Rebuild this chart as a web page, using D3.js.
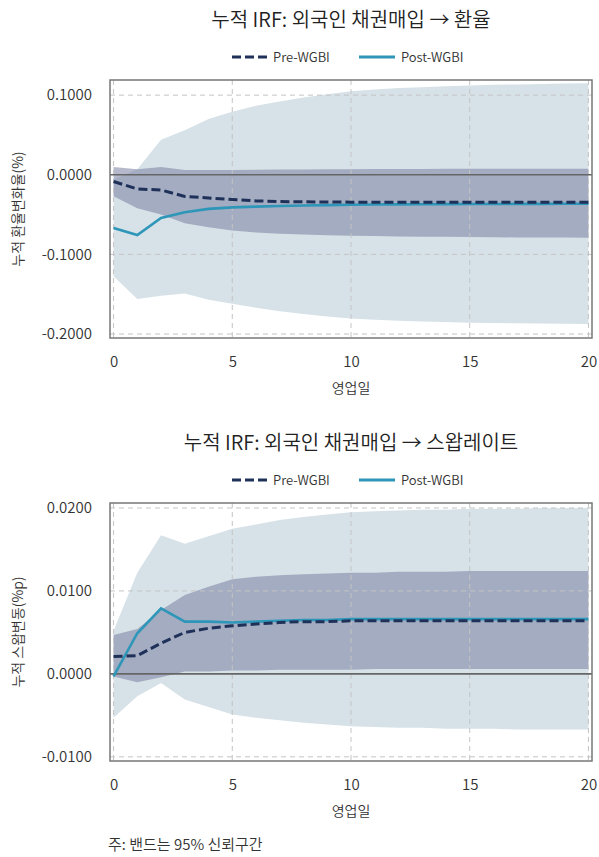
<!DOCTYPE html>
<html>
<head>
<meta charset="utf-8">
<title>누적 IRF</title>
<style>
  body { margin: 0; background: #fff; }
  svg { display: block; font-family: "Noto Sans CJK KR DemiLight", "Noto Sans CJK KR Light", "Noto Sans CJK KR", sans-serif; font-weight: 300; }
</style>
</head>
<body>
<svg width="599" height="857"></svg>
<script src="https://d3js.org/d3.v7.min.js"></script>
<script>

  // 영업일 0..20
  const days = d3.range(0, 21);
  const xTicks = [0, 5, 10, 15, 20];

  // 환율 패널
  const fxPre    = [-0.0085, -0.0178, -0.0192, -0.0272, -0.0292, -0.031, -0.0328, -0.0336, -0.034, -0.0342, -0.0344, -0.0345, -0.0345, -0.0345, -0.0345, -0.0345, -0.0345, -0.0345, -0.0345, -0.0345, -0.0345];
  const fxPost   = [-0.067, -0.0758, -0.0543, -0.047, -0.0428, -0.041, -0.040, -0.0392, -0.0386, -0.0381, -0.0377, -0.0374, -0.0372, -0.037, -0.0369, -0.0368, -0.0367, -0.0366, -0.0366, -0.0365, -0.0365];
  const fxPreLo  = [-0.027, -0.042, -0.050, -0.061, -0.066, -0.070, -0.0724, -0.074, -0.075, -0.076, -0.0765, -0.077, -0.0775, -0.078, -0.078, -0.0783, -0.0785, -0.0787, -0.0788, -0.0789, -0.079];
  const fxPreHi  = [0.0097, 0.007, 0.0097, 0.006, 0.006, 0.006, 0.0062, 0.0065, 0.0067, 0.0069, 0.007, 0.0071, 0.0072, 0.0073, 0.0074, 0.0075, 0.0075, 0.0076, 0.0076, 0.0077, 0.0077];
  const fxPostLo = [-0.1276, -0.156, -0.152, -0.149, -0.157, -0.162, -0.167, -0.1715, -0.175, -0.178, -0.1805, -0.182, -0.1832, -0.1842, -0.185, -0.1857, -0.1862, -0.1866, -0.1869, -0.1871, -0.1873];
  const fxPostHi = [-0.006, 0.007, 0.044, 0.056, 0.070, 0.079, 0.0866, 0.092, 0.097, 0.101, 0.105, 0.107, 0.109, 0.110, 0.111, 0.112, 0.113, 0.1135, 0.114, 0.1145, 0.115];
  const fxTicks  = [0.1, 0, -0.1, -0.2];

  // 스왑레이트 패널
  const swPre    = [0.0021, 0.0022, 0.0037, 0.0050, 0.0055, 0.0058, 0.0060, 0.0062, 0.0063, 0.0063, 0.0064, 0.0064, 0.0064, 0.0064, 0.0064, 0.0064, 0.0064, 0.0064, 0.0064, 0.0064, 0.0064];
  const swPost   = [-0.0003, 0.0049, 0.0079, 0.0063, 0.0063, 0.0062, 0.0063, 0.0064, 0.0065, 0.0065, 0.0066, 0.0066, 0.0066, 0.0066, 0.0066, 0.0066, 0.0066, 0.0066, 0.0066, 0.0066, 0.0066];
  const swPreLo  = [-0.0003, -0.0010, -0.0004, 0.0003, 0.0003, 0.0004, 0.0004, 0.0005, 0.0005, 0.0005, 0.0005, 0.0006, 0.0006, 0.0006, 0.0006, 0.0006, 0.0006, 0.0006, 0.0006, 0.0006, 0.0006];
  const swPreHi  = [0.0047, 0.0054, 0.0077, 0.0095, 0.0105, 0.0114, 0.0117, 0.0119, 0.0120, 0.0121, 0.0122, 0.0122, 0.0123, 0.0123, 0.0123, 0.0124, 0.0124, 0.0124, 0.0124, 0.0124, 0.0124];
  const swPostLo = [-0.0053, -0.0027, -0.0011, -0.0031, -0.0040, -0.0049, -0.0053, -0.0056, -0.0059, -0.0061, -0.0063, -0.0064, -0.0065, -0.0065, -0.0066, -0.0066, -0.0066, -0.0067, -0.0067, -0.0067, -0.0067];
  const swPostHi = [0.0052, 0.0122, 0.0167, 0.0157, 0.0166, 0.0175, 0.0180, 0.01855, 0.0189, 0.0192, 0.0195, 0.0196, 0.0197, 0.0198, 0.0198, 0.0199, 0.0199, 0.0199, 0.0200, 0.0200, 0.0200];
  const swTicks  = [0.02, 0.01, 0, -0.01];

  const svg = d3.select("svg");
  const left = 110, right = 592;

  const x = d3.scaleLinear().domain([-0.15, 20.15]).range([left, right]);
  const fmt = v => d3.format(".4f")(v).replace("−", "-");

  function panel(p) {
    const g = svg.append("g");
    const y = d3.scaleLinear().domain(p.yDomain).range([p.bottom, p.top]);

    // 제목
    g.append("text")
      .attr("x", (left + right) / 2).attr("y", p.top - 60)
      .attr("dy", "0.35em").attr("text-anchor", "middle")
      .attr("font-size", 20).attr("font-weight", 400).attr("fill", "#222")
      .text(p.title);

    // 범례
    const ly = p.top - 23;
    g.append("line").attr("x1", 232).attr("x2", 267).attr("y1", ly).attr("y2", ly)
      .attr("stroke", "#1f3158").attr("stroke-width", 3).attr("stroke-dasharray", "9,4");
    g.append("text").attr("x", 273).attr("y", ly).attr("dy", "0.35em")
      .attr("font-size", 13).attr("fill", "#333").text("Pre-WGBI");
    g.append("line").attr("x1", 359).attr("x2", 395).attr("y1", ly).attr("y2", ly)
      .attr("stroke", "#2e96b8").attr("stroke-width", 3);
    g.append("text").attr("x", 401).attr("y", ly).attr("dy", "0.35em")
      .attr("font-size", 13).attr("fill", "#333").text("Post-WGBI");

    // 신뢰구간 밴드
    const band = (lo, hi) => d3.area()
      .x((d, i) => x(days[i]))
      .y0((d, i) => y(lo[i]))
      .y1((d, i) => y(hi[i]))(days);

    g.append("path").attr("d", band(p.postLo, p.postHi)).attr("fill", "#d6e2e8");
    g.append("path").attr("d", band(p.preLo, p.preHi))
      .attr("fill", "rgb(122,127,160)").attr("fill-opacity", 0.55);

    // 격자
    g.append("g").selectAll("line").data(xTicks).join("line")
      .attr("x1", d => x(d)).attr("x2", d => x(d))
      .attr("y1", p.top).attr("y2", p.bottom)
      .attr("stroke", "#c4c4c4").attr("stroke-width", 1).attr("stroke-dasharray", "5,4");
    g.append("g").selectAll("line").data(p.ticks.filter(t => t !== 0)).join("line")
      .attr("x1", left).attr("x2", right)
      .attr("y1", d => y(d)).attr("y2", d => y(d))
      .attr("stroke", "#c4c4c4").attr("stroke-width", 1).attr("stroke-dasharray", "5,4");

    // 0 기준선
    g.append("line").attr("x1", left).attr("x2", right)
      .attr("y1", y(0)).attr("y2", y(0))
      .attr("stroke", "#666").attr("stroke-width", 1.6);

    const line = vals => d3.line().x((d, i) => x(days[i])).y((d, i) => y(vals[i]))(days);
    g.append("path").attr("d", line(p.post)).attr("fill", "none")
      .attr("stroke", "#2e96b8").attr("stroke-width", 2.6);
    g.append("path").attr("d", line(p.pre)).attr("fill", "none")
      .attr("stroke", "#1f3158").attr("stroke-width", 3).attr("stroke-dasharray", "9,4");

    // 테두리
    g.append("rect").attr("x", left).attr("y", p.top)
      .attr("width", right - left).attr("height", p.bottom - p.top)
      .attr("fill", "none").attr("stroke", "#777").attr("stroke-width", 1.5);

    // 축
    const ya = g.append("g").attr("transform", `translate(${left},0)`)
      .call(d3.axisLeft(y).tickValues(p.ticks).tickFormat(fmt).tickSize(0).tickPadding(18));
    ya.select(".domain").remove();
    ya.selectAll("text").attr("font-size", 15).attr("fill", "#333")
      .attr("font-family", null).attr("font-weight", 300);

    const xa = g.append("g").attr("transform", `translate(0,${p.bottom})`)
      .call(d3.axisBottom(x).tickValues(xTicks).tickFormat(d3.format("d")).tickSize(0).tickPadding(18));
    xa.select(".domain").remove();
    xa.selectAll("text").attr("font-size", 15).attr("fill", "#333")
      .attr("font-family", null).attr("font-weight", 300);
    ya.attr("font-family", null);
    xa.attr("font-family", null);

    g.append("text").attr("x", (left + right) / 2).attr("y", p.bottom + 50)
      .attr("dy", "0.35em").attr("text-anchor", "middle")
      .attr("font-size", 14).attr("fill", "#333").text("영업일");

    g.append("text")
      .attr("transform", `translate(18,${(p.top + p.bottom) / 2}) rotate(-90)`)
      .attr("dy", "0.35em").attr("text-anchor", "middle")
      .attr("font-size", 14).attr("fill", "#333").text(p.ylabel);
  }

  panel({
    title: "누적 IRF: 외국인 채권매입 → 환율",
    ylabel: "누적 환율변화율(%)",
    top: 80, bottom: 338, yDomain: [-0.205, 0.119], ticks: fxTicks,
    pre: fxPre, post: fxPost, preLo: fxPreLo, preHi: fxPreHi, postLo: fxPostLo, postHi: fxPostHi
  });

  panel({
    title: "누적 IRF: 외국인 채권매입 → 스왑레이트",
    ylabel: "누적 스왑변동(%p)",
    top: 503, bottom: 761, yDomain: [-0.0105, 0.0206], ticks: swTicks,
    pre: swPre, post: swPost, preLo: swPreLo, preHi: swPreHi, postLo: swPostLo, postHi: swPostHi
  });

  svg.append("text").attr("x", 108).attr("y", 845).attr("dy", "0.35em")
    .attr("font-size", 15).attr("fill", "#333").text("주: 밴드는 95% 신뢰구간");

</script>
</body>
</html>
